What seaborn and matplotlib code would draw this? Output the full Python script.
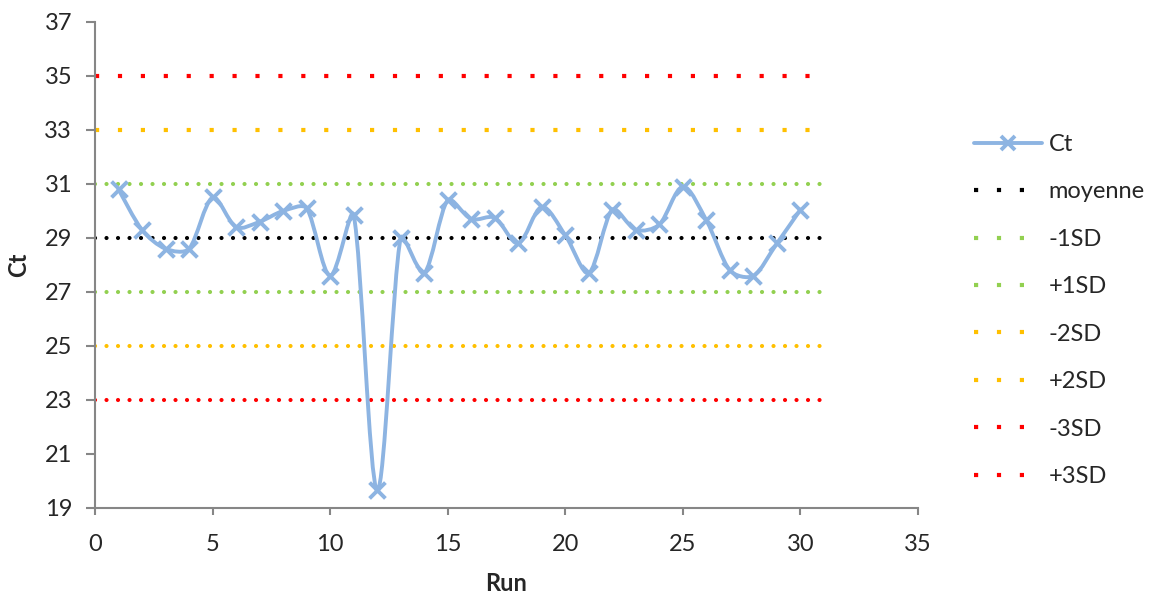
import numpy as np
import pandas as pd
import matplotlib.pyplot as plt
import seaborn as sns
from matplotlib.path import Path
from matplotlib.patches import PathPatch
from matplotlib.lines import Line2D

# Données : Ct par run
runs = list(range(1, 31))
ct = [30.8, 29.3, 28.6, 28.6, 30.5, 29.4, 29.6, 30.0, 30.1, 27.6,
      29.85, 19.65, 29.0, 27.7, 30.4, 29.7, 29.75, 28.8, 30.15, 29.1,
      27.7, 30.05, 29.3, 29.5, 30.9, 29.65, 27.8, 27.6, 28.8, 30.05]

# Limites de contrôle
moyenne = 29
sd = 2
limites = ['moyenne', '-1SD', '+1SD', '-2SD', '+2SD', '-3SD', '+3SD']
niveaux = [moyenne, moyenne - sd, moyenne + sd, moyenne - 2 * sd,
           moyenne + 2 * sd, moyenne - 3 * sd, moyenne + 3 * sd]
couleurs = ['black', '#92D050', '#92D050', '#FFC000', '#FFC000', '#FF0000', '#FF0000']
carres = [False, False, False, False, True, False, True]  # points carrés espacés

df = pd.DataFrame({'Run': runs, 'Ct': ct})

sns.set_style('white')
plt.rcParams['font.family'] = ['Lato', 'DejaVu Sans']

fig = plt.figure(figsize=(11.6, 5.96), dpi=100)
ax = fig.add_axes([0.0819, 0.1477, 0.7095, 0.8154])

# lignes de contrôle
for niv, col, carre in zip(niveaux, couleurs, carres):
    if carre:
        ax.plot([0, 31], [niv, niv], color=col, lw=3.0,
                linestyle=(0, (1, 4.5)), dash_capstyle='butt', zorder=2)
    else:
        ax.plot([0, 31], [niv, niv], color=col, lw=3.0,
                linestyle=(0, (0.01, 2.75)), dash_capstyle='round', zorder=2)

# courbe lissée (bezier façon Excel, tangentes pondérées par la longueur des segments)
bleu = '#8DB4E2'
pts = np.column_stack([df['Run'], df['Ct']]).astype(float)
echelle = np.array([23.5, 27.0])  # px par unité, pour des distances à l'écran


def dist(a, b):
    return np.linalg.norm((b - a) * echelle)


verts = [pts[0]]
codes = [Path.MOVETO]
n = len(pts)
for i in range(n - 1):
    p0 = pts[i - 1] if i > 0 else pts[i]
    p1 = pts[i]
    p2 = pts[i + 1]
    p3 = pts[i + 2] if i + 2 < n else pts[i + 1]
    d01, d12, d23 = dist(p0, p1), dist(p1, p2), dist(p2, p3)
    f1 = 2 * d12 / (d01 + d12) if i > 0 else 1.0
    f2 = 2 * d12 / (d12 + d23) if i + 2 < n else 1.0
    c1 = p1 + (p2 - p0) / 6 * min(f1, 1.0)
    c2 = p2 - (p3 - p1) / 6 * min(f2, 1.0)
    verts += [c1, c2, p2]
    codes += [Path.CURVE4] * 3
ax.add_patch(PathPatch(Path(verts, codes), facecolor='none', edgecolor=bleu,
                       lw=2.8, zorder=3, capstyle='round', joinstyle='round'))

sns.scatterplot(data=df, x='Run', y='Ct', marker='x', s=130, color=bleu,
                linewidth=2.8, ax=ax, zorder=4, legend=False)

ax.set_xlim(0, 35)
ax.set_ylim(19, 37)
ax.set_xticks(range(0, 36, 5))
ax.set_yticks(range(19, 38, 2))

gris = '#868686'
for s in ['top', 'right']:
    ax.spines[s].set_visible(False)
for s in ['left', 'bottom']:
    ax.spines[s].set_color(gris)
    ax.spines[s].set_linewidth(1.5)
ax.tick_params(axis='y', direction='out', length=6.5, width=1.5, color=gris,
               labelsize=17, pad=10, left=True)
ax.tick_params(axis='x', direction='out', length=5, width=1.5, color=gris,
               labelsize=17, pad=14, bottom=True)

ax.set_xlabel('Run', fontsize=17, fontweight='bold', labelpad=12)
ax.set_ylabel('Ct', fontsize=17, fontweight='bold', labelpad=10)

# légende
handles = [Line2D([0], [0], color=bleu, lw=2.8, marker='x', markersize=10,
                  markeredgewidth=2.8)]
for col in couleurs:
    handles.append(Line2D([0], [0], color=col, lw=3.0, linestyle=(0, (1, 4.5)),
                          dash_capstyle='butt'))
fig.legend(handles, ['Ct'] + limites, loc='center left',
           bbox_to_anchor=(0.840, 0.479), frameon=False, fontsize=17,
           handlelength=2.85, handletextpad=0.3, labelspacing=1.12,
           borderaxespad=0, borderpad=0)

fig.savefig('out.png', dpi=100)
